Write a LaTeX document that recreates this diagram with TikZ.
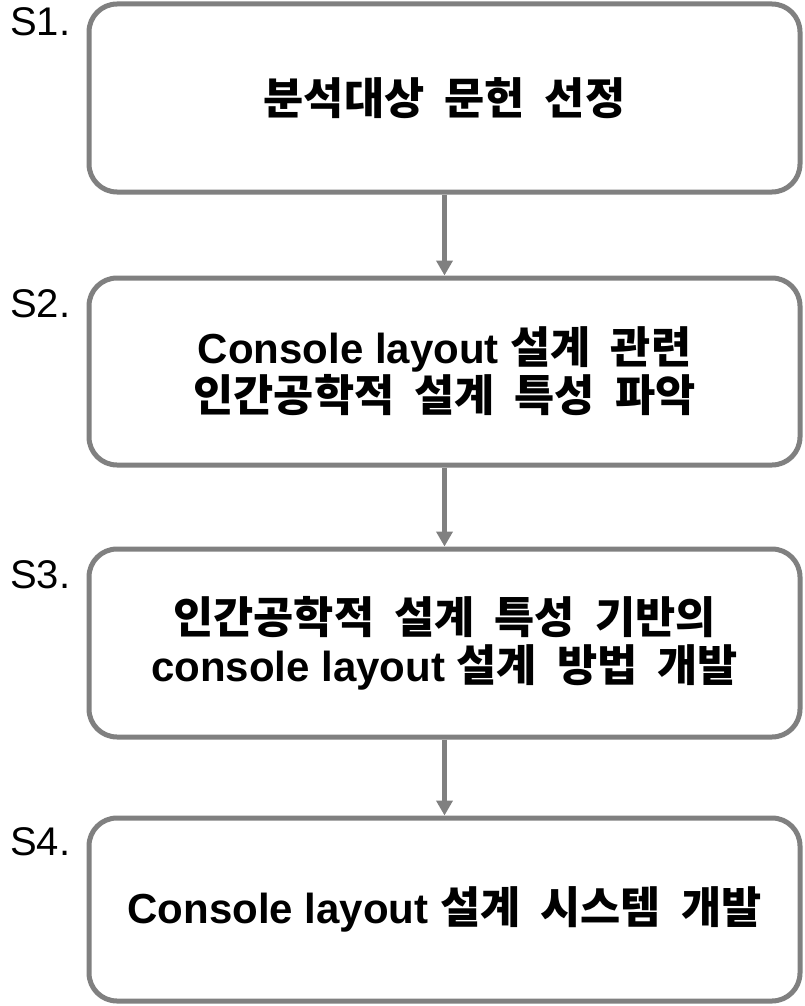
\documentclass[tikz,border=0pt]{standalone}
\usepackage{fontspec}
\setmainfont{Liberation Sans}
\newfontfamily\kr[Scale=1.04, WordSpace=2.0]{Noto Sans CJK KR}
\usetikzlibrary{arrows.meta}
\definecolor{boxgray}{RGB}{128,128,128}

\begin{document}
\begin{tikzpicture}[x=1pt,y=-1pt,
  stepbox/.style={draw=boxgray, line width=5pt, rounded corners=28pt,
    minimum width=711pt, align=center, inner sep=0pt,
    font=\fontsize{42}{48}\selectfont\bfseries},
  flow/.style={draw=boxgray, line width=4.5pt,
    -{Triangle[width=16pt,length=15pt]}},
  steplabel/.style={anchor=base west, inner sep=0pt,
    font=\fontsize{40}{48}\selectfont}]
  \useasboundingbox (0,0) rectangle (804,1006);

  % process steps
  \node[stepbox, minimum height=188pt] (b1) at (444.5,98)
    {{\kr 분석대상 문헌 선정}};
  \node[stepbox, minimum height=187pt] (b2) at (444.5,371.5)
    {Console layout {\kr 설계 관련}\\{\kr 인간공학적 설계 특성 파악}};
  \node[stepbox, minimum height=188pt] (b3) at (444.5,643)
    {{\kr 인간공학적 설계 특성 기반의}\\console layout {\kr 설계 방법 개발}};
  \node[stepbox, minimum height=183pt] (b4) at (444.5,909.5)
    {Console layout {\kr 설계 시스템 개발}};

  % step numbers
  \node[steplabel] (s1) at (10,36) {S1.};
  \node[steplabel] (s2) at (10,317) {S2.};
  \node[steplabel] (s3) at (10,588) {S3.};
  \node[steplabel] (s4) at (10,855) {S4.};

  % flow between steps
  \draw[flow] (b1.south) -- (b2.north);
  \draw[flow] (b2.south) -- (b3.north);
  \draw[flow] (b3.south) -- (b4.north);
\end{tikzpicture}
\end{document}
